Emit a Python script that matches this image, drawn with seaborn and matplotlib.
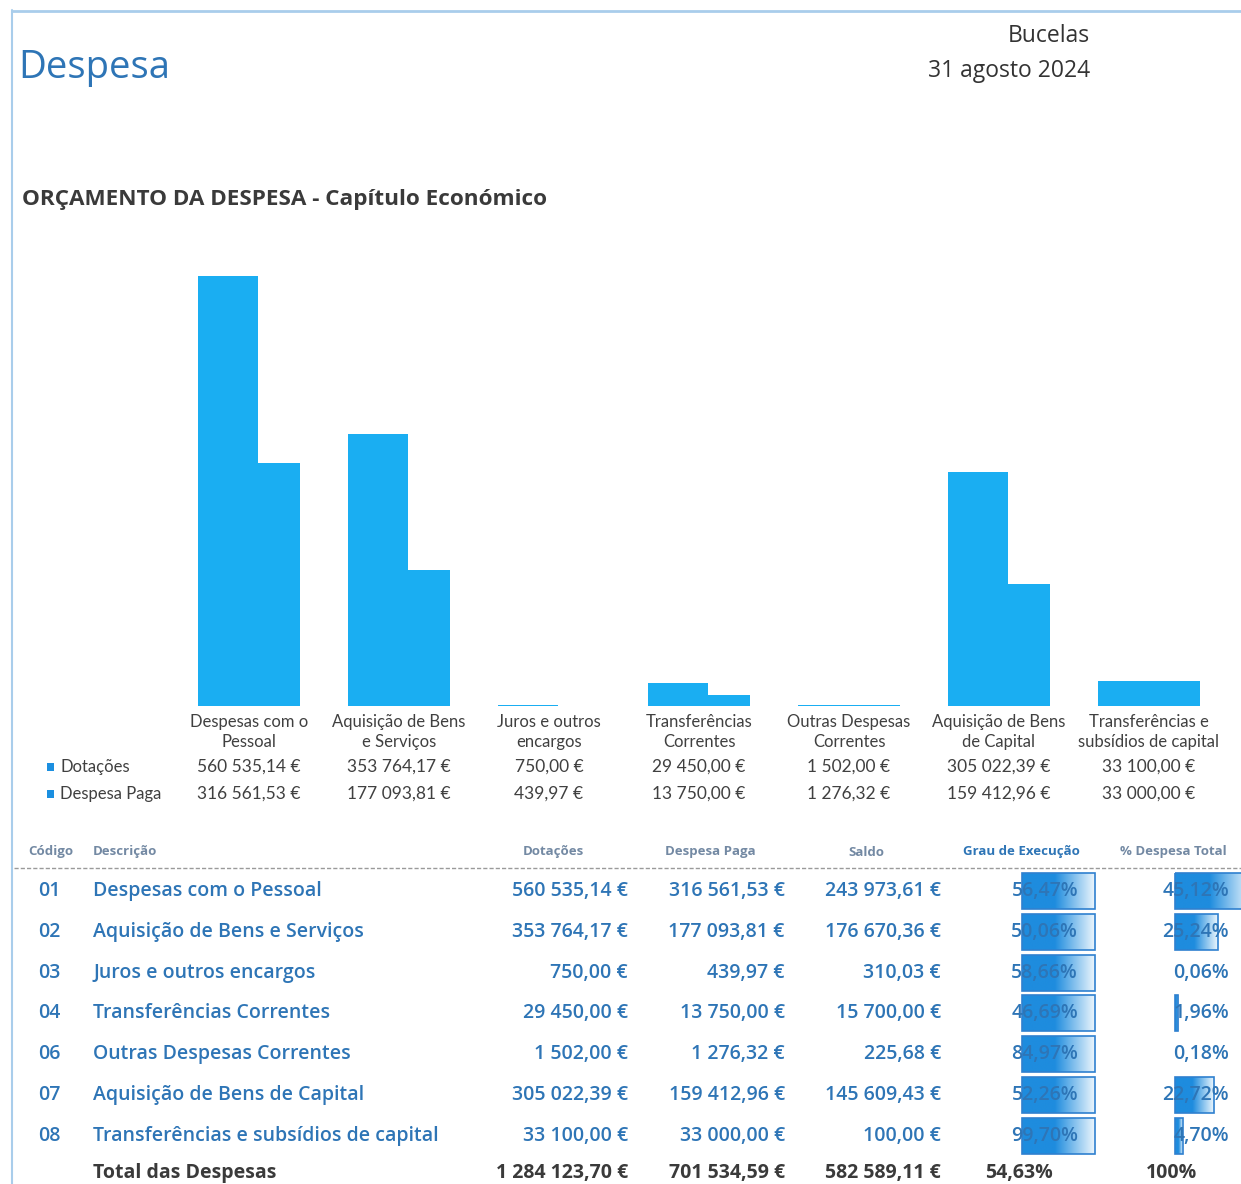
import numpy as np
import pandas as pd
import matplotlib
matplotlib.use("Agg")
import matplotlib.pyplot as plt
import seaborn as sns
from matplotlib.patches import Rectangle

codigos = ["01", "02", "03", "04", "06", "07", "08"]
descricoes = ["Despesas com o Pessoal", "Aquisição de Bens e Serviços",
              "Juros e outros encargos", "Transferências Correntes",
              "Outras Despesas Correntes", "Aquisição de Bens de Capital",
              "Transferências e subsídios de capital"]
rotulos_grafico = ["Despesas com o\nPessoal", "Aquisição de Bens\ne Serviços",
                   "Juros e outros\nencargos", "Transferências\nCorrentes",
                   "Outras Despesas\nCorrentes", "Aquisição de Bens\nde Capital",
                   "Transferências e\nsubsídios de capital"]
dotacoes = [560535.14, 353764.17, 750.00, 29450.00, 1502.00, 305022.39, 33100.00]
despesa_paga = [316561.53, 177093.81, 439.97, 13750.00, 1276.32, 159412.96, 33000.00]
saldo = [243973.61, 176670.36, 310.03, 15700.00, 225.68, 145609.43, 100.00]
grau_execucao = [56.47, 50.06, 58.66, 46.69, 84.97, 52.26, 99.70]
pct_despesa_total = [45.12, 25.24, 0.06, 1.96, 0.18, 22.72, 4.70]
totais = ["1 284 123,70 €", "701 534,59 €", "582 589,11 €", "54,63%", "100%"]

AZUL_BARRA = "#1AAEF2"
AZUL_TXT = "#2E75B6"
CINZA = "#404040"
W, H = 1241, 1184
SANS = ["Open Sans", "DejaVu Sans"]
GEO = ["Lato", "DejaVu Sans"]


def eur(v):
    s = f"{v:,.2f}".replace(",", " ").replace(".", ",")
    return s + " €"


def pct(v):
    return f"{v:.2f}".replace(".", ",") + "%"


sns.set_style("white")
plt.rcParams["font.family"] = SANS

fig = plt.figure(figsize=(W / 100, H / 100), dpi=100)

# camada de fundo em coordenadas de pixel
ov = fig.add_axes([0, 0, 1, 1])
ov.set_xlim(0, W)
ov.set_ylim(H, 0)
ov.axis("off")

# moldura da página
ov.plot([12, 12], [10, H], color="#A9CDEB", lw=1.5)
ov.plot([12, W], [11, 11], color="#A9CDEB", lw=2)

ov.text(18, 68, "Despesa", fontsize=27.5, color=AZUL_TXT, va="center", ha="left")
ov.text(1090, 36, "Bucelas", fontsize=16.5, color="#333333", va="center", ha="right")
ov.text(1090, 71, "31 agosto 2024", fontsize=16.5, color="#333333", va="center", ha="right")
ov.text(22, 199, "ORÇAMENTO DA DESPESA - Capítulo Económico", fontsize=16.2,
        fontweight="bold", color="#3A3A3A", va="center", ha="left")

# gráfico de barras
df = pd.DataFrame({
    "categoria": rotulos_grafico * 2,
    "valor": dotacoes + despesa_paga,
    "serie": ["Dotações"] * 7 + ["Despesa Paga"] * 7,
})
ax = fig.add_axes([174 / W, (H - 706) / H, 1050 / W, 450 / H])
ax.patch.set_alpha(0)
sns.barplot(data=df, x="categoria", y="valor", hue="serie",
            palette=[AZUL_BARRA, AZUL_BARRA], width=0.68, dodge=True,
            legend=False, errorbar=None, ax=ax, saturation=1, linewidth=0)
# Dotações mais larga, Despesa Paga encostada à direita
for i, p in enumerate(ax.containers[0]):
    p.set_x(i - 0.34)
    p.set_width(0.40)
for i, p in enumerate(ax.containers[1]):
    p.set_x(i + 0.053)
    p.set_width(0.287)
ax.set_xlim(-0.5, 6.5)
ax.set_ylim(0, 586000)
ax.set_yticks([])
ax.set_xlabel("")
ax.set_ylabel("")
ax.tick_params(axis="x", length=0, pad=6)
for lab in ax.get_xticklabels():
    lab.set_family(GEO)
    lab.set_fontsize(12)
    lab.set_color(CINZA)
    lab.set_linespacing(1.3)
sns.despine(ax=ax, left=True, bottom=True)

# tabela de dados do gráfico
for nome, serie, y in [("Dotações", dotacoes, 767), ("Despesa Paga", despesa_paga, 794)]:
    ov.add_patch(Rectangle((47, y - 4), 7, 8, color="#1B8FE0", lw=0))
    ov.text(60, y, nome, fontsize=12, color=CINZA, va="center", ha="left", family=GEO)
    for i, v in enumerate(serie):
        ov.text(249 + 150 * i, y, eur(v), fontsize=12.5, color=CINZA, va="center",
                ha="center", family=GEO)

# tabela inferior
cab_cor = "#7389A3"
kw = dict(fontsize=9.5, va="center", fontweight="bold")
ov.text(28, 852, "Código", color=cab_cor, ha="left", **kw)
ov.text(93, 852, "Descrição", color=cab_cor, ha="left", **kw)
ov.text(553, 852, "Dotações", color=cab_cor, ha="center", **kw)
ov.text(710, 852, "Despesa Paga", color=cab_cor, ha="center", **kw)
ov.text(866, 852, "Saldo", color=cab_cor, ha="center", **kw)
ov.text(1021, 852, "Grau de Execução", color=AZUL_TXT, ha="center", **kw)
ov.text(1173, 852, "% Despesa Total", color=cab_cor, ha="center", **kw)
ov.plot([14, W], [868, 868], color="#9A9A9A", lw=1, ls=(0, (3, 1.5)))


def barra_dados(x0, largura, yc, alt=36):
    n = 200
    t = np.linspace(0, 1, n)
    ini = np.array([30, 140, 222]) / 255
    fim = np.array([236, 246, 253]) / 255
    mix = np.clip((t - 0.45) / 0.55, 0, 1)[:, None]
    cols = ini * (1 - mix) + fim * mix
    img = np.concatenate([cols, np.ones((n, 1))], axis=1)[None, :, :]
    ov.imshow(img, extent=(x0, x0 + largura, yc + alt / 2, yc - alt / 2),
              aspect="auto", zorder=2, interpolation="bilinear")
    ov.add_patch(Rectangle((x0, yc - alt / 2), largura, alt, fill=False,
                           edgecolor="#2F80CF", lw=1.2, zorder=3))


ys = [891, 932, 973, 1013, 1054, 1095, 1136]
for i in range(7):
    y = ys[i]
    barra_dados(1022, 73, y)
    if pct_despesa_total[i] >= 1:
        barra_dados(1175, pct_despesa_total[i] * 1.7, y)
    kw = dict(fontsize=14, color=AZUL_TXT, va="center", zorder=4, fontweight="semibold")
    ov.text(38, y, codigos[i], ha="left", **kw)
    ov.text(93, y, descricoes[i], ha="left", **kw)
    ov.text(628, y, eur(dotacoes[i]), ha="right", **kw)
    ov.text(785, y, eur(despesa_paga[i]), ha="right", **kw)
    ov.text(941, y, eur(saldo[i]), ha="right", **kw)
    ov.text(1078, y, pct(grau_execucao[i]), ha="right", **kw)
    ov.text(1229, y, pct(pct_despesa_total[i]), ha="right", **kw)

kw = dict(fontsize=14, color="#3A3A3A", va="center", fontweight="bold")
ov.text(93, 1173, "Total das Despesas", ha="left", **kw)
ov.text(628, 1173, totais[0], ha="right", **kw)
ov.text(785, 1173, totais[1], ha="right", **kw)
ov.text(941, 1173, totais[2], ha="right", **kw)
ov.text(1053, 1173, totais[3], ha="right", **kw)
ov.text(1197, 1173, totais[4], ha="right", **kw)

ov.set_xlim(0, W)
ov.set_ylim(H, 0)

fig.savefig("out.png", dpi=100)
